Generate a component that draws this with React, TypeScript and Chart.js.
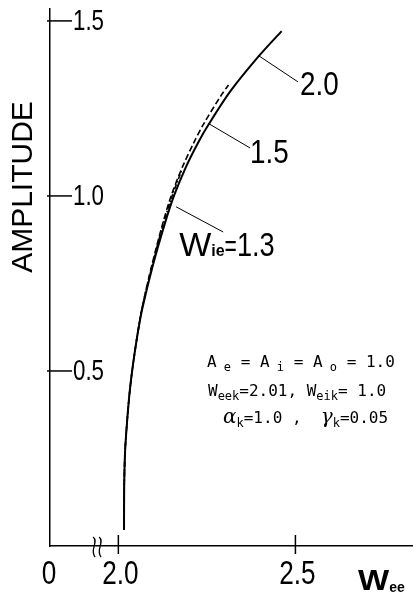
import React, { useEffect, useRef } from "react";
import { Chart, registerables } from "chart.js";

Chart.register(...registerables);

// ---- data ----
// Wie = 2.0 (solid)
const weeW20 = [2.016, 2.0165, 2.019, 2.025, 2.033, 2.043, 2.055, 2.068, 2.097, 2.131, 2.157, 2.191, 2.224, 2.256, 2.317, 2.397, 2.461];
const ampW20 = [0.046, 0.17, 0.27, 0.36, 0.45, 0.53, 0.61, 0.68, 0.80, 0.92, 1.00, 1.083, 1.15, 1.206, 1.30, 1.40, 1.471];
// Wie = 1.5 (dashed)
const weeW15 = [2.016, 2.0165, 2.019, 2.025, 2.033, 2.043, 2.055, 2.067, 2.094, 2.125, 2.149, 2.181, 2.212, 2.241, 2.292, 2.311];
const ampW15 = [0.046, 0.17, 0.27, 0.36, 0.45, 0.53, 0.61, 0.68, 0.80, 0.92, 1.00, 1.083, 1.15, 1.206, 1.29, 1.317];
// Wie = 1.3 (dash-dot)
const weeW13 = [2.016, 2.0165, 2.019, 2.025, 2.033, 2.043, 2.055, 2.067, 2.095, 2.127, 2.152, 2.179];
const ampW13 = [0.046, 0.17, 0.27, 0.36, 0.45, 0.53, 0.61, 0.68, 0.80, 0.92, 1.00, 1.074];

const yTickValues = [0.5, 1.0, 1.5];
const xTickValues = [2.0, 2.5];
const xOriginLabel = "0";
const xMin = 1.807;
const xMax = 2.832;
const yMin = 0;
const yMax = 1.534;
const xBreakAt = 1.94;

const yTitle = "AMPLITUDE";

// curve labels: leader from a point on the curve to a point beside it (data coords)
const curveLabelTexts = ["2.0", "1.5", "Wie=1.3"];
const leaderFromWee = [2.397, 2.256, 2.163];
const leaderFromAmp = [1.40, 1.206, 0.969];
const leaderToWee = [2.507, 2.372, 2.296];
const leaderToAmp = [1.326, 1.137, 0.897];

// ---- styling ----
const SANS = "'Liberation Sans', Arial, sans-serif";
const MONO = "'DejaVu Sans Mono', 'Liberation Mono', monospace";
const SERIF = "'DejaVu Serif', 'Liberation Serif', serif";
const NARROW_SX = 0.77;

type Seg = { t: string; font: string; dy?: number; sx?: number };

const mainMono = `16px ${MONO}`;
const subMono = `12px ${MONO}`;
const greek = `italic 20px ${SERIF}`;
const bigNum = `34px ${SANS}`;
const tickNum = `29px ${SANS}`;

const paramLines: { x: number; y: number; segs: Seg[] }[] = [
  {
    x: 207,
    y: 367,
    segs: [
      { t: "A", font: mainMono },
      { t: " e", font: subMono, dy: 4 },
      { t: " = A", font: mainMono },
      { t: " i", font: subMono, dy: 4 },
      { t: " = A", font: mainMono },
      { t: " o", font: subMono, dy: 4 },
      { t: " = 1.0", font: mainMono },
    ],
  },
  {
    x: 208,
    y: 396,
    segs: [
      { t: "W", font: mainMono },
      { t: "eek", font: subMono, dy: 4 },
      { t: "=2.01, W", font: mainMono },
      { t: "eik", font: subMono, dy: 4 },
      { t: "= 1.0", font: mainMono },
    ],
  },
  {
    x: 223,
    y: 423,
    segs: [
      { t: "α", font: greek },
      { t: "k", font: subMono, dy: 4 },
      { t: "=1.0 ,  ", font: mainMono },
      { t: "γ", font: greek },
      { t: "k", font: subMono, dy: 4 },
      { t: "=0.05", font: mainMono },
    ],
  },
];

function drawSegs(ctx: CanvasRenderingContext2D, x: number, y: number, segs: Seg[]) {
  let cx = x;
  for (const s of segs) {
    const sx = s.sx || 1;
    ctx.save();
    ctx.font = s.font;
    ctx.textAlign = "left";
    ctx.textBaseline = "alphabetic";
    ctx.translate(cx, y + (s.dy || 0));
    ctx.scale(sx, 1);
    ctx.fillText(s.t, 0, 0);
    ctx.restore();
    ctx.font = s.font;
    cx += ctx.measureText(s.t).width * sx;
  }
}

function drawNum(ctx: CanvasRenderingContext2D, text: string, x: number, y: number, font: string, align: CanvasTextAlign) {
  ctx.save();
  ctx.font = font;
  ctx.textAlign = align;
  ctx.textBaseline = "middle";
  ctx.translate(x, y);
  ctx.scale(NARROW_SX, 1);
  ctx.fillText(text, 0, 0);
  ctx.restore();
}

const decorPlugin = {
  id: "decor",
  afterDraw(chart: any) {
    const ctx: CanvasRenderingContext2D = chart.ctx;
    const xs = chart.scales.x;
    const ys = chart.scales.y;
    const area = chart.chartArea;
    ctx.save();
    ctx.strokeStyle = "#000";
    ctx.fillStyle = "#000";

    // y tick marks (pointing into the plot) + labels
    ctx.lineWidth = 1.5;
    for (const v of yTickValues) {
      const py = ys.getPixelForValue(v);
      ctx.beginPath();
      ctx.moveTo(area.left - 3, py);
      ctx.lineTo(area.left + 22, py);
      ctx.stroke();
      drawNum(ctx, v.toFixed(1), area.left + 23, py + 1, tickNum, "left");
    }
    // x tick marks crossing the axis + labels
    const labelY = area.bottom + 29;
    for (const v of xTickValues) {
      const px = xs.getPixelForValue(v);
      ctx.beginPath();
      ctx.moveTo(px, area.bottom - 11);
      ctx.lineTo(px, area.bottom + 8);
      ctx.stroke();
      drawNum(ctx, v.toFixed(1), px + 2, labelY, bigNum, "center");
    }
    drawNum(ctx, xOriginLabel, xs.getPixelForValue(xMin) - 1, labelY, bigNum, "center");

    // axis break mark
    const bx = xs.getPixelForValue(xBreakAt);
    ctx.lineWidth = 1.3;
    for (const off of [-3, 3]) {
      const x0 = bx + off;
      ctx.beginPath();
      ctx.moveTo(x0 - 1, area.bottom - 9);
      ctx.bezierCurveTo(x0 + 5, area.bottom - 4, x0 - 5, area.bottom + 4, x0 + 1, area.bottom + 11);
      ctx.stroke();
    }

    // leader lines
    ctx.lineWidth = 1;
    for (let i = 0; i < curveLabelTexts.length; i++) {
      ctx.beginPath();
      ctx.moveTo(xs.getPixelForValue(leaderFromWee[i]), ys.getPixelForValue(leaderFromAmp[i]));
      ctx.lineTo(xs.getPixelForValue(leaderToWee[i]), ys.getPixelForValue(leaderToAmp[i]));
      ctx.stroke();
    }
    // curve labels
    const ends = curveLabelTexts.map((_, i) => [xs.getPixelForValue(leaderToWee[i]), ys.getPixelForValue(leaderToAmp[i])]);
    drawSegs(ctx, ends[0][0] + 2, ends[0][1] + 13, [{ t: curveLabelTexts[0], font: bigNum, sx: 0.82 }]);
    drawSegs(ctx, ends[1][0] + 0, ends[1][1] + 15, [{ t: curveLabelTexts[1], font: bigNum, sx: 0.82 }]);
    const [w3, rest3] = curveLabelTexts[2].split("=");
    drawSegs(ctx, ends[2][0] - 44, ends[2][1] + 24, [
      { t: w3.charAt(0), font: `34px ${SANS}` },
      { t: w3.slice(1), font: `bold 16px ${SANS}` },
      { t: "=", font: `30px ${SANS}`, sx: 0.7 },
      { t: rest3, font: bigNum, sx: 0.8 },
    ]);

    // x axis title Wee
    drawSegs(ctx, 358, 590, [
      { t: "W", font: `bold 30px ${SANS}`, sx: 1.1 },
      { t: "ee", font: `bold 14px ${SANS}`, dy: 2 },
    ]);

    // y axis title
    ctx.save();
    ctx.translate(24, 187);
    ctx.rotate(-Math.PI / 2);
    ctx.font = `30px ${SANS}`;
    ctx.textAlign = "center";
    ctx.textBaseline = "middle";
    ctx.fillText(yTitle, 0, 0);
    ctx.restore();

    // parameter block
    for (const line of paramLines) drawSegs(ctx, line.x, line.y, line.segs);

    ctx.restore();
  },
};

export default function App() {
  const ref = useRef<HTMLCanvasElement | null>(null);
  useEffect(() => {
    if (!ref.current) return;
    const mk = (xsArr: number[], ysArr: number[]) => xsArr.map((x, i) => ({ x, y: ysArr[i] }));
    const chart = new Chart(ref.current, {
      type: "scatter",
      data: {
        datasets: [
          {
            label: "Wie=2.0",
            data: mk(weeW20, ampW20),
            showLine: true,
            borderColor: "#000",
            borderWidth: 2,
            pointRadius: 0,
            tension: 0.3,
            fill: false,
          },
          {
            label: "Wie=1.5",
            data: mk(weeW15, ampW15),
            showLine: true,
            borderColor: "#000",
            borderWidth: 1.6,
            borderDash: [6, 3],
            pointRadius: 0,
            tension: 0.3,
            fill: false,
          },
          {
            label: "Wie=1.3",
            data: mk(weeW13, ampW13),
            showLine: true,
            borderColor: "#000",
            borderWidth: 1.6,
            borderDash: [5, 2, 1.5, 2],
            pointRadius: 0,
            tension: 0.3,
            fill: false,
          },
        ],
      },
      options: {
        animation: false,
        responsive: false,
        devicePixelRatio: 1,
        layout: { padding: { top: 9, left: 0, right: 0, bottom: 0 } },
        plugins: { legend: { display: false }, tooltip: { enabled: false } },
        scales: {
          x: {
            type: "linear",
            min: xMin,
            max: xMax,
            grid: { display: false, drawTicks: false },
            border: { display: true, color: "#000", width: 1.5 },
            afterBuildTicks: (scale: any) => {
              scale.ticks = [xMin, ...xTickValues].map((v) => ({ value: v }));
            },
            afterFit: (scale: any) => {
              scale.height = 53;
              scale.paddingLeft = 0;
              scale.paddingRight = 0;
            },
            ticks: { display: false },
          },
          y: {
            type: "linear",
            min: yMin,
            max: yMax,
            grid: { display: false, drawTicks: false },
            border: { display: true, color: "#000", width: 1.5 },
            afterBuildTicks: (scale: any) => {
              scale.ticks = yTickValues.map((v) => ({ value: v }));
            },
            afterFit: (scale: any) => {
              scale.width = 50;
              scale.paddingTop = 0;
              scale.paddingBottom = 0;
            },
            ticks: { display: false },
          },
        },
      },
      plugins: [decorPlugin],
    });
    return () => chart.destroy();
  }, []);
  return (
    <div style={{ position: "absolute", left: 0, top: 0, width: 413, height: 599, background: "#fff" }}>
      <canvas ref={ref} width={413} height={599} style={{ display: "block" }} />
    </div>
  );
}
